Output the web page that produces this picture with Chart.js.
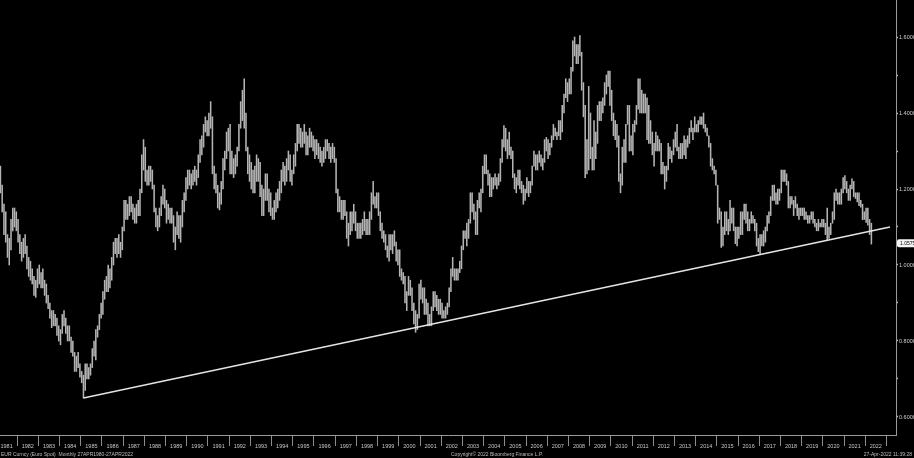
<!DOCTYPE html>
<html>
<head>
<meta charset="utf-8">
<script src="https://cdn.jsdelivr.net/npm/chart.js@4.4.0/dist/chart.umd.min.js"></script>
<style>
html, body { margin: 0; padding: 0; background: #000; overflow: hidden; }
#wrap { position: relative; width: 914px; height: 458px; background: #000; }
canvas { display: block; }
.foot { position: absolute; top: 451px; font: 5px "Liberation Sans", Arial, sans-serif; color: #bdbdbd; white-space: nowrap; }
</style>
</head>
<body>
<div id="wrap">
  <canvas id="chart" width="914" height="458"></canvas>
  <span class="foot" style="left:1px">EUR Curncy (Euro Spot)&nbsp;&nbsp;Monthly 27APR1980-27APR2022</span>
  <span class="foot" style="left:451px">Copyright© 2022 Bloomberg Finance L.P.</span>
  <span class="foot" style="right:2px">27-Apr-2022 11:39:28</span>
</div>
<script>
// monthly bars, first one is March 1981
const startYear = 1981;
const startMonth = 3;

const highs = [
  1.26, 1.21, 1.16, 1.14, 1.08, 1.07, 1.12, 1.15, 1.15, 1.14,            // 1981
  1.12, 1.08, 1.06, 1.07, 1.08, 1.05, 1.02, 1.01, 0.99, 0.97, 0.96, 0.99, // 1982
  1.00, 0.98, 0.99, 0.96, 0.95, 0.92, 0.90, 0.88, 0.88, 0.87, 0.86, 0.84, // 1983
  0.83, 0.87, 0.88, 0.86, 0.84, 0.84, 0.81, 0.80, 0.77, 0.76, 0.77, 0.74, // 1984
  0.72, 0.71, 0.74, 0.74, 0.73, 0.74, 0.78, 0.80, 0.83, 0.84, 0.87, 0.90, // 1985
  0.93, 0.96, 0.97, 1.00, 0.99, 1.02, 1.06, 1.07, 1.07, 1.08, 1.06, 1.10, // 1986
  1.17, 1.17, 1.16, 1.18, 1.18, 1.16, 1.15, 1.16, 1.17, 1.20, 1.29, 1.33, // 1987
  1.31, 1.25, 1.26, 1.26, 1.25, 1.21, 1.15, 1.13, 1.15, 1.18, 1.21, 1.20, // 1988
  1.17, 1.16, 1.15, 1.15, 1.13, 1.10, 1.14, 1.13, 1.13, 1.17, 1.19, 1.23, // 1989
  1.25, 1.25, 1.24, 1.25, 1.26, 1.25, 1.29, 1.33, 1.34, 1.37, 1.39, 1.38, // 1990
  1.40, 1.43, 1.39, 1.26, 1.24, 1.21, 1.19, 1.22, 1.28, 1.30, 1.35, 1.36, // 1991
  1.37, 1.30, 1.28, 1.29, 1.31, 1.37, 1.43, 1.46, 1.49, 1.40, 1.31, 1.29, // 1992
  1.27, 1.25, 1.26, 1.29, 1.28, 1.27, 1.21, 1.20, 1.24, 1.24, 1.20, 1.19, // 1993
  1.15, 1.17, 1.19, 1.20, 1.22, 1.25, 1.27, 1.26, 1.28, 1.30, 1.29, 1.25, // 1994
  1.29, 1.32, 1.37, 1.37, 1.36, 1.35, 1.37, 1.35, 1.34, 1.36, 1.35, 1.34, // 1995
  1.33, 1.33, 1.32, 1.31, 1.30, 1.31, 1.33, 1.33, 1.32, 1.31, 1.32, 1.31, // 1996
  1.28, 1.20, 1.18, 1.17, 1.17, 1.17, 1.14, 1.11, 1.14, 1.14, 1.16, 1.14, // 1997
  1.11, 1.11, 1.11, 1.12, 1.14, 1.12, 1.12, 1.14, 1.19, 1.22, 1.18, 1.19, // 1998
  1.19, 1.14, 1.11, 1.09, 1.08, 1.05, 1.08, 1.08, 1.08, 1.09, 1.06, 1.04, // 1999
  1.04, 0.99, 0.98, 0.97, 0.93, 0.97, 0.96, 0.94, 0.90, 0.88, 0.87, 0.95, // 2000
  0.96, 0.94, 0.94, 0.91, 0.90, 0.87, 0.89, 0.93, 0.93, 0.92, 0.91, 0.91, // 2001
  0.90, 0.88, 0.89, 0.90, 0.94, 0.99, 1.02, 0.99, 0.99, 0.99, 1.01, 1.05, // 2002
  1.09, 1.09, 1.11, 1.12, 1.19, 1.19, 1.16, 1.14, 1.17, 1.19, 1.20, 1.26, // 2003
  1.29, 1.29, 1.25, 1.24, 1.23, 1.23, 1.24, 1.23, 1.24, 1.28, 1.33, 1.367, // 2004
  1.36, 1.33, 1.35, 1.31, 1.30, 1.24, 1.23, 1.25, 1.25, 1.22, 1.21, 1.20, // 2005
  1.23, 1.22, 1.22, 1.26, 1.30, 1.29, 1.29, 1.30, 1.29, 1.28, 1.33, 1.336, // 2006
  1.33, 1.32, 1.34, 1.37, 1.36, 1.35, 1.38, 1.38, 1.42, 1.45, 1.49, 1.48, // 2007
  1.49, 1.52, 1.59, 1.60, 1.58, 1.58, 1.604, 1.56, 1.48, 1.42, 1.33, 1.47, // 2008
  1.40, 1.31, 1.38, 1.35, 1.42, 1.43, 1.43, 1.44, 1.48, 1.50, 1.51, 1.51, // 2009
  1.46, 1.40, 1.38, 1.37, 1.34, 1.24, 1.31, 1.33, 1.37, 1.42, 1.42, 1.34, // 2010
  1.37, 1.38, 1.42, 1.49, 1.49, 1.46, 1.45, 1.45, 1.44, 1.42, 1.38, 1.35, // 2011
  1.32, 1.35, 1.34, 1.33, 1.32, 1.27, 1.26, 1.26, 1.32, 1.31, 1.30, 1.33, // 2012
  1.35, 1.37, 1.31, 1.32, 1.32, 1.34, 1.33, 1.34, 1.36, 1.38, 1.36, 1.39, // 2013
  1.37, 1.38, 1.39, 1.39, 1.40, 1.37, 1.36, 1.34, 1.32, 1.28, 1.26, 1.25, // 2014
  1.21, 1.15, 1.14, 1.10, 1.14, 1.14, 1.12, 1.17, 1.15, 1.15, 1.10, 1.10, // 2015
  1.10, 1.14, 1.14, 1.16, 1.16, 1.14, 1.12, 1.14, 1.13, 1.12, 1.11, 1.07, // 2016
  1.08, 1.08, 1.09, 1.10, 1.13, 1.14, 1.18, 1.21, 1.21, 1.19, 1.20, 1.20, // 2017
  1.25, 1.25, 1.25, 1.24, 1.22, 1.18, 1.18, 1.17, 1.18, 1.16, 1.15, 1.15, // 2018
  1.15, 1.15, 1.14, 1.13, 1.13, 1.14, 1.14, 1.12, 1.11, 1.12, 1.11, 1.12, // 2019
  1.12, 1.11, 1.15, 1.10, 1.11, 1.14, 1.19, 1.20, 1.19, 1.19, 1.20, 1.23, // 2020
  1.235, 1.22, 1.20, 1.21, 1.227, 1.22, 1.19, 1.19, 1.19, 1.17, 1.16, 1.14, // 2021
  1.15, 1.15, 1.12, 1.11                                                  // 2022
];

const lows = [
  1.19, 1.14, 1.08, 1.06, 1.02, 1.00, 1.04, 1.09, 1.10, 1.09,             // 1981
  1.06, 1.03, 1.01, 1.02, 1.03, 0.99, 0.97, 0.96, 0.95, 0.92, 0.915, 0.94, // 1982
  0.95, 0.94, 0.94, 0.92, 0.90, 0.885, 0.86, 0.835, 0.84, 0.84, 0.815, 0.80, // 1983
  0.79, 0.82, 0.84, 0.82, 0.80, 0.80, 0.77, 0.76, 0.72, 0.72, 0.73, 0.705, // 1984
  0.69, 0.65, 0.67, 0.70, 0.70, 0.71, 0.73, 0.76, 0.75, 0.81, 0.83, 0.86, // 1985
  0.87, 0.91, 0.93, 0.93, 0.94, 0.96, 1.00, 1.03, 1.02, 1.03, 1.02, 1.04, // 1986
  1.09, 1.12, 1.12, 1.13, 1.14, 1.12, 1.11, 1.11, 1.13, 1.13, 1.19, 1.25, // 1987
  1.22, 1.21, 1.21, 1.22, 1.20, 1.14, 1.10, 1.09, 1.10, 1.13, 1.16, 1.15, // 1988
  1.11, 1.12, 1.11, 1.11, 1.06, 1.04, 1.08, 1.07, 1.06, 1.10, 1.14, 1.17, // 1989
  1.20, 1.21, 1.20, 1.21, 1.22, 1.21, 1.23, 1.27, 1.29, 1.31, 1.35, 1.34, // 1990
  1.34, 1.36, 1.24, 1.20, 1.19, 1.15, 1.145, 1.16, 1.20, 1.25, 1.28, 1.30, // 1991
  1.24, 1.24, 1.23, 1.24, 1.26, 1.30, 1.36, 1.38, 1.36, 1.30, 1.24, 1.22, // 1992
  1.20, 1.19, 1.19, 1.22, 1.22, 1.18, 1.13, 1.13, 1.17, 1.17, 1.14, 1.13, // 1993
  1.12, 1.12, 1.14, 1.15, 1.17, 1.19, 1.22, 1.21, 1.22, 1.25, 1.22, 1.21, // 1994
  1.24, 1.26, 1.30, 1.32, 1.31, 1.31, 1.32, 1.29, 1.29, 1.31, 1.31, 1.30, // 1995
  1.28, 1.29, 1.28, 1.27, 1.26, 1.27, 1.28, 1.30, 1.28, 1.27, 1.28, 1.27, // 1996
  1.19, 1.14, 1.14, 1.12, 1.12, 1.13, 1.07, 1.05, 1.08, 1.09, 1.11, 1.09, // 1997
  1.07, 1.07, 1.07, 1.08, 1.09, 1.08, 1.08, 1.08, 1.12, 1.16, 1.15, 1.15, // 1998
  1.13, 1.09, 1.07, 1.06, 1.04, 1.02, 1.01, 1.04, 1.03, 1.05, 1.01, 1.00, // 1999
  0.97, 0.96, 0.95, 0.90, 0.88, 0.92, 0.92, 0.88, 0.845, 0.823, 0.83, 0.86, // 2000
  0.91, 0.90, 0.87, 0.87, 0.84, 0.84, 0.84, 0.88, 0.89, 0.88, 0.87, 0.87, // 2001
  0.86, 0.86, 0.86, 0.87, 0.89, 0.93, 0.97, 0.96, 0.96, 0.96, 0.98, 0.99, // 2002
  1.04, 1.07, 1.05, 1.07, 1.11, 1.14, 1.12, 1.08, 1.08, 1.15, 1.14, 1.19, // 2003
  1.24, 1.24, 1.21, 1.18, 1.18, 1.20, 1.21, 1.20, 1.21, 1.22, 1.27, 1.31, // 2004
  1.30, 1.28, 1.29, 1.28, 1.23, 1.20, 1.19, 1.21, 1.20, 1.19, 1.16, 1.17, // 2005
  1.19, 1.18, 1.19, 1.21, 1.26, 1.25, 1.25, 1.27, 1.26, 1.25, 1.27, 1.30, // 2006
  1.28, 1.29, 1.31, 1.33, 1.34, 1.33, 1.34, 1.33, 1.35, 1.40, 1.44, 1.43, // 2007
  1.45, 1.45, 1.51, 1.55, 1.53, 1.53, 1.55, 1.46, 1.39, 1.23, 1.24, 1.25, // 2008
  1.28, 1.25, 1.25, 1.28, 1.32, 1.38, 1.38, 1.40, 1.42, 1.45, 1.47, 1.42, // 2009
  1.38, 1.34, 1.33, 1.31, 1.22, 1.19, 1.21, 1.27, 1.27, 1.37, 1.30, 1.30, // 2010
  1.29, 1.35, 1.37, 1.41, 1.40, 1.40, 1.40, 1.40, 1.33, 1.32, 1.32, 1.29, // 2011
  1.26, 1.30, 1.30, 1.30, 1.24, 1.24, 1.20, 1.22, 1.25, 1.28, 1.27, 1.29, // 2012
  1.31, 1.30, 1.28, 1.28, 1.28, 1.29, 1.28, 1.31, 1.32, 1.35, 1.33, 1.35, // 2013
  1.35, 1.35, 1.37, 1.37, 1.36, 1.35, 1.34, 1.31, 1.26, 1.25, 1.24, 1.21, // 2014
  1.11, 1.12, 1.046, 1.05, 1.08, 1.09, 1.08, 1.09, 1.11, 1.09, 1.056, 1.05, // 2015
  1.07, 1.08, 1.08, 1.12, 1.11, 1.09, 1.09, 1.11, 1.11, 1.09, 1.05, 1.035, // 2016
  1.03, 1.05, 1.05, 1.06, 1.09, 1.11, 1.13, 1.17, 1.17, 1.16, 1.16, 1.17, // 2017
  1.19, 1.22, 1.22, 1.21, 1.15, 1.15, 1.16, 1.13, 1.15, 1.13, 1.12, 1.13, // 2018
  1.13, 1.12, 1.12, 1.11, 1.11, 1.12, 1.11, 1.10, 1.09, 1.09, 1.10, 1.10, // 2019
  1.10, 1.08, 1.064, 1.07, 1.08, 1.11, 1.12, 1.17, 1.16, 1.16, 1.16, 1.19, // 2020
  1.20, 1.19, 1.17, 1.17, 1.20, 1.18, 1.175, 1.166, 1.156, 1.152, 1.119, 1.12, // 2021
  1.112, 1.105, 1.08, 1.055                                               // 2022
];

const yearLabels = [1981, 1982, 1983, 1984, 1985, 1986, 1987, 1988, 1989, 1990,
  1991, 1992, 1993, 1994, 1995, 1996, 1997, 1998, 1999, 2000, 2001, 2002, 2003,
  2004, 2005, 2006, 2007, 2008, 2009, 2010, 2011, 2012, 2013, 2014, 2015, 2016,
  2017, 2018, 2019, 2020, 2021, 2022];
const majorTicks = [0.6, 0.8, 1.0, 1.2, 1.4, 1.6];
const minorTicks = [0.7, 0.9, 1.1, 1.3, 1.5];

// trendline drawn from the 1985 low
const trendDates = [1985.125, 2023.17];
const trendValues = [0.65, 1.10];
const lastPrice = 1.0575;

const FONT = '"Liberation Sans", Arial, sans-serif';

const bars = highs.map((h, i) => ({
  x: startYear + (startMonth - 1 + i + 0.5) / 12,
  y: [lows[i], h]
}));
const trend = trendDates.map((d, i) => ({ x: d, y: trendValues[i] }));

const lastPriceTag = {
  id: 'lastPriceTag',
  afterDraw(chart) {
    const ctx = chart.ctx;
    const y = chart.scales.y.getPixelForValue(lastPrice);
    const x0 = chart.chartArea.right + 1;
    ctx.save();
    ctx.fillStyle = '#f4f4f4';
    ctx.beginPath();
    ctx.roundRect(x0, y - 4, 20, 8, 2);
    ctx.fill();
    ctx.fillStyle = '#000';
    ctx.font = '5px ' + FONT;
    ctx.textBaseline = 'middle';
    ctx.fillText(lastPrice.toFixed(4), x0 + 3, y + 0.5);
    ctx.restore();
  }
};

new Chart(document.getElementById('chart'), {
  type: 'bar',
  data: {
    datasets: [
      {
        type: 'line',
        data: trend,
        borderColor: '#e4e4e4',
        borderWidth: 1.5,
        pointRadius: 0,
        order: 0
      },
      {
        type: 'bar',
        data: bars,
        backgroundColor: '#b4b4b4',
        barThickness: 0.9,
        order: 1
      }
    ]
  },
  options: {
    responsive: false,
    animation: false,
    layout: { padding: 0 },
    plugins: { legend: { display: false }, tooltip: { enabled: false } },
    scales: {
      x: {
        type: 'linear',
        min: 1981.1887,
        max: 2023.4528,
        offset: false,
        afterBuildTicks: (s) => { s.ticks = yearLabels.map((y) => ({ value: y + 0.5 })); },
        afterFit: (s) => { s.height = 23; s.paddingLeft = 0; s.paddingRight = 0; },
        ticks: {
          autoSkip: false,
          maxRotation: 0,
          padding: -3,
          color: '#c8c8c8',
          font: { size: 5.5, family: FONT },
          callback: (v, i) => String(yearLabels[i])
        },
        grid: { offset: true, drawOnChartArea: false, drawTicks: true, tickLength: 11, color: '#8c8c8c' },
        border: { display: true, color: '#9a9a9a' }
      },
      y: {
        position: 'right',
        min: 0.55263,
        max: 1.69737,
        afterBuildTicks: (s) => {
          s.ticks = majorTicks.concat(minorTicks).sort((a, b) => a - b).map((v) => ({ value: v }));
        },
        afterFit: (s) => { s.width = 18; s.paddingTop = 0; s.paddingBottom = 0; },
        ticks: {
          autoSkip: false,
          padding: 1,
          color: '#d0d0d0',
          font: { size: 5.5, family: FONT },
          callback: (v) => (majorTicks.some((m) => Math.abs(m - v) < 1e-6) ? v.toFixed(4) : '')
        },
        grid: { drawOnChartArea: false, drawTicks: true, tickLength: 2, tickWidth: 1.5, color: '#bdbdbd' },
        border: { display: true, color: '#9a9a9a' }
      }
    }
  },
  plugins: [lastPriceTag]
});
</script>
</body>
</html>
